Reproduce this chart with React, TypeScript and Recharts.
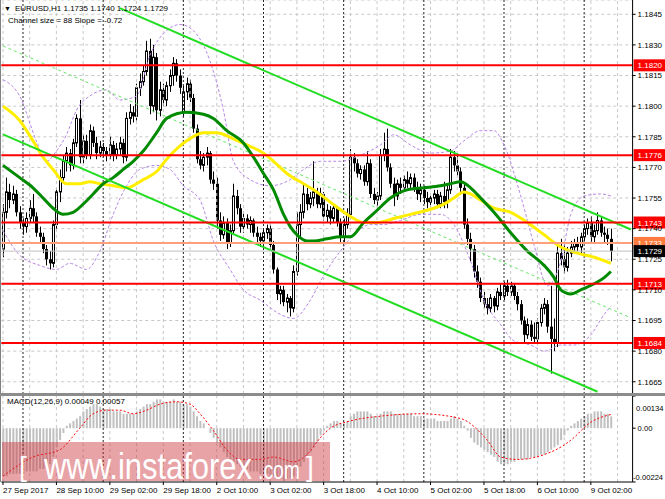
import React from 'react';
import { ComposedChart, Bar, Line, XAxis, YAxis, CartesianGrid, ReferenceLine } from 'recharts';

const FONT = "'Liberation Sans', Arial, sans-serif";
const SLOTS = 189;

// [open, high, low, close] per H1 bar, 27 Sep 18:00 .. 9 Oct 08:00
const candles: [number, number, number, number][] = [
  [1.1730,1.1752,1.1726,1.1748],[1.1748,1.1765,1.1745,1.1758],[1.1758,1.1762,1.1750,1.1754],[1.1754,1.1761,1.1752,1.1757],
  [1.1757,1.1759,1.1746,1.1748],[1.1748,1.1751,1.1740,1.1743],[1.1743,1.1745,1.1737,1.1741],[1.1741,1.1748,1.1738,1.1745],
  [1.1745,1.1754,1.1743,1.1750],[1.1750,1.1757,1.1743,1.1746],[1.1746,1.1748,1.1736,1.1738],[1.1738,1.1741,1.1733,1.1736],
  [1.1736,1.1738,1.1728,1.1730],[1.1730,1.1732,1.1722,1.1725],[1.1725,1.1729,1.1720,1.1723],[1.1723,1.1744,1.1721,1.1742],
  [1.1742,1.1760,1.1740,1.1758],[1.1758,1.1769,1.1753,1.1765],[1.1765,1.1776,1.1762,1.1773],[1.1773,1.1780,1.1768,1.1777],
  [1.1777,1.1779,1.1768,1.1771],[1.1771,1.1784,1.1769,1.1782],[1.1782,1.1796,1.1780,1.1794],[1.1794,1.1803,1.1772,1.1775],
  [1.1775,1.1786,1.1772,1.1783],[1.1783,1.1786,1.1774,1.1776],[1.1776,1.1791,1.1774,1.1788],[1.1788,1.1790,1.1780,1.1782],
  [1.1782,1.1785,1.1774,1.1777],[1.1777,1.1783,1.1775,1.1780],[1.1780,1.1782,1.1775,1.1778],[1.1778,1.1780,1.1773,1.1776],
  [1.1776,1.1785,1.1774,1.1781],[1.1781,1.1783,1.1773,1.1776],[1.1776,1.1782,1.1774,1.1779],[1.1779,1.1785,1.1776,1.1782],
  [1.1782,1.1784,1.1772,1.1775],[1.1775,1.1797,1.1773,1.1794],[1.1794,1.1801,1.1791,1.1797],[1.1797,1.1800,1.1792,1.1795],
  [1.1795,1.1811,1.1793,1.1809],[1.1809,1.1816,1.1805,1.1812],[1.1812,1.1820,1.1810,1.1817],[1.1817,1.1832,1.1815,1.1827],
  [1.1827,1.1833,1.1796,1.1800],[1.1800,1.1830,1.1797,1.1824],[1.1824,1.1826,1.1793,1.1798],[1.1798,1.1812,1.1795,1.1808],
  [1.1808,1.1811,1.1800,1.1803],[1.1803,1.1812,1.1800,1.1810],[1.1810,1.1818,1.1807,1.1815],[1.1815,1.1824,1.1810,1.1821],
  [1.1821,1.1823,1.1812,1.1815],[1.1815,1.1818,1.1806,1.1809],[1.1797,1.1810,1.1795,1.1807],[1.1807,1.1814,1.1803,1.1811],
  [1.1811,1.1813,1.1802,1.1804],[1.1804,1.1806,1.1787,1.1789],[1.1789,1.1791,1.1772,1.1774],[1.1774,1.1778,1.1769,1.1771],
  [1.1771,1.1777,1.1768,1.1775],[1.1775,1.1780,1.1771,1.1777],[1.1777,1.1778,1.1762,1.1764],[1.1764,1.1768,1.1759,1.1762],
  [1.1762,1.1765,1.1740,1.1744],[1.1744,1.1748,1.1734,1.1737],[1.1737,1.1746,1.1735,1.1743],[1.1743,1.1745,1.1730,1.1733],
  [1.1733,1.1742,1.1731,1.1739],[1.1739,1.1762,1.1737,1.1756],[1.1756,1.1759,1.1747,1.1750],[1.1750,1.1752,1.1738,1.1741],
  [1.1741,1.1748,1.1738,1.1745],[1.1745,1.1747,1.1740,1.1742],[1.1742,1.1746,1.1738,1.1744],[1.1744,1.1745,1.1736,1.1738],
  [1.1738,1.1741,1.1733,1.1736],[1.1736,1.1738,1.1731,1.1734],[1.1734,1.1740,1.1731,1.1738],[1.1738,1.1742,1.1735,1.1740],
  [1.1740,1.1742,1.1730,1.1732],[1.1732,1.1734,1.1718,1.1720],[1.1720,1.1721,1.1705,1.1708],[1.1708,1.1712,1.1703,1.1710],
  [1.1710,1.1712,1.1702,1.1704],[1.1704,1.1708,1.1699,1.1706],[1.1706,1.1707,1.1697,1.1701],[1.1701,1.1722,1.1699,1.1719],
  [1.1719,1.1748,1.1717,1.1742],[1.1742,1.1752,1.1735,1.1748],[1.1748,1.1762,1.1745,1.1757],[1.1757,1.1760,1.1749,1.1752],
  [1.1752,1.1758,1.1750,1.1755],[1.1755,1.1773,1.1751,1.1758],[1.1758,1.1760,1.1750,1.1752],[1.1752,1.1760,1.1750,1.1757],
  [1.1757,1.1758,1.1744,1.1746],[1.1746,1.1752,1.1743,1.1749],[1.1749,1.1751,1.1742,1.1745],[1.1745,1.1752,1.1743,1.1750],
  [1.1750,1.1751,1.1741,1.1743],[1.1743,1.1745,1.1733,1.1736],[1.1736,1.1745,1.1733,1.1742],[1.1742,1.1750,1.1740,1.1747],
  [1.1747,1.1779,1.1745,1.1775],[1.1775,1.1777,1.1768,1.1772],[1.1772,1.1774,1.1765,1.1767],[1.1767,1.1771,1.1764,1.1769],
  [1.1769,1.1771,1.1761,1.1763],[1.1763,1.1778,1.1761,1.1772],[1.1772,1.1774,1.1755,1.1757],[1.1757,1.1760,1.1752,1.1754],
  [1.1754,1.1758,1.1751,1.1756],[1.1756,1.1779,1.1754,1.1776],[1.1776,1.1787,1.1773,1.1779],[1.1779,1.1789,1.1768,1.1770],
  [1.1770,1.1772,1.1760,1.1762],[1.1762,1.1765,1.1751,1.1756],[1.1756,1.1764,1.1754,1.1762],[1.1762,1.1765,1.1757,1.1760],
  [1.1760,1.1766,1.1758,1.1764],[1.1764,1.1768,1.1760,1.1762],[1.1762,1.1767,1.1759,1.1765],[1.1765,1.1767,1.1758,1.1760],
  [1.1760,1.1763,1.1754,1.1757],[1.1757,1.1762,1.1753,1.1759],[1.1759,1.1761,1.1752,1.1755],[1.1755,1.1758,1.1750,1.1753],
  [1.1753,1.1757,1.1750,1.1755],[1.1755,1.1759,1.1752,1.1757],[1.1757,1.1759,1.1750,1.1752],[1.1752,1.1758,1.1750,1.1756],
  [1.1756,1.1763,1.1750,1.1753],[1.1753,1.1762,1.1750,1.1759],[1.1759,1.1779,1.1757,1.1775],[1.1775,1.1778,1.1768,1.1771],
  [1.1771,1.1776,1.1766,1.1768],[1.1768,1.1770,1.1758,1.1760],[1.1760,1.1762,1.1740,1.1742],[1.1742,1.1745,1.1732,1.1735],
  [1.1735,1.1738,1.1724,1.1730],[1.1730,1.1732,1.1716,1.1719],[1.1719,1.1722,1.1711,1.1714],[1.1714,1.1716,1.1704,1.1706],
  [1.1706,1.1709,1.1701,1.1703],[1.1703,1.1706,1.1698,1.1701],[1.1701,1.1708,1.1699,1.1706],[1.1706,1.1707,1.1699,1.1702],
  [1.1702,1.1711,1.1700,1.1709],[1.1709,1.1713,1.1705,1.1707],[1.1707,1.1714,1.1705,1.1712],[1.1712,1.1715,1.1707,1.1709],
  [1.1709,1.1714,1.1707,1.1712],[1.1712,1.1713,1.1705,1.1707],[1.1707,1.1709,1.1700,1.1703],[1.1703,1.1705,1.1693,1.1695],
  [1.1695,1.1697,1.1684,1.1688],[1.1688,1.1696,1.1686,1.1693],[1.1693,1.1695,1.1685,1.1687],[1.1687,1.1694,1.1684,1.1686],
  [1.1686,1.1696,1.1684,1.1694],[1.1694,1.1703,1.1692,1.1701],[1.1701,1.1706,1.1698,1.1703],[1.1703,1.1705,1.1689,1.1692],
  [1.1692,1.1712,1.1669,1.1686],[1.1686,1.1696,1.1680,1.1684],[1.1684,1.1733,1.1682,1.1728],[1.1728,1.1735,1.1722,1.1725],
  [1.1725,1.1733,1.1718,1.1721],[1.1721,1.1731,1.1719,1.1728],[1.1728,1.1734,1.1726,1.1731],[1.1731,1.1735,1.1728,1.1733],
  [1.1733,1.1736,1.1729,1.1731],[1.1731,1.1738,1.1728,1.1736],[1.1736,1.1742,1.1734,1.1740],[1.1740,1.1745,1.1737,1.1743],
  [1.1743,1.1746,1.1733,1.1736],[1.1736,1.1742,1.1733,1.1739],[1.1739,1.1748,1.1737,1.1744],[1.1744,1.1746,1.1736,1.1738],
  [1.1738,1.1741,1.1733,1.1737],[1.1737,1.1740,1.1732,1.1735],[1.1735,1.1740,1.1724,1.1729],
];

// [bar index, value] points
const yellowMA: [number, number][] = [
  [0,1.1800],[5,1.1793],[9,1.1783],[12,1.1775],[15,1.1769],[19,1.1762],[23,1.1762],[26,1.1763],[29,1.1762],[33,1.1761],
  [37,1.1760],[42,1.1764],[46,1.1768],[49,1.1774],[55,1.1783],[60,1.1787],[64,1.1787],[69,1.1784],[73,1.1781],[78,1.1777],
  [81,1.1773],[85,1.1767],[90,1.1762],[93,1.1759],[98,1.1753],[103,1.1747],[105,1.1745],[108,1.1743],[112,1.1743],[117,1.1745],
  [122,1.1747],[127,1.1749],[132,1.1752],[135,1.1755],[138,1.1758],[140,1.1757],[143,1.1754],[147,1.1750],[152,1.1748],[157,1.1743],
  [162,1.1737],[167,1.1731],[172,1.1728],[177,1.1726],[182,1.1723],
];
const greenMA: [number, number][] = [
  [0,1.1771],[5,1.1765],[9,1.1760],[12,1.1755],[15,1.1750],[18,1.1747],[21,1.1748],[24,1.1752],[27,1.1757],[30,1.1762],
  [33,1.1765],[36,1.1769],[39,1.1773],[42,1.1778],[46,1.1787],[49,1.1794],[55,1.1797],[60,1.1796],[63,1.1794],[67,1.1788],
  [72,1.1782],[75,1.1775],[78,1.1767],[81,1.1759],[84,1.1747],[86,1.1741],[88,1.1737],[91,1.1734],[93,1.1734],[97,1.1735],
  [101,1.1736],[104,1.1736],[108,1.1743],[112,1.1749],[116,1.1755],[121,1.1759],[126,1.1760],[131,1.1761],[134,1.1762],[137,1.1763],
  [140,1.1760],[143,1.1755],[147,1.1748],[152,1.1738],[157,1.1729],[162,1.1722],[165,1.1716],[167,1.1710],[170,1.1708],[173,1.1710],
  [177,1.1713],[180,1.1716],[182,1.1719],
];
const bbUpper: [number, number][] = [
  [0,1.1813],[5,1.1805],[10,1.1783],[13,1.1773],[16,1.1778],[19,1.1786],[22,1.1798],[26,1.1805],[31,1.1808],[35,1.1803],
  [40,1.1805],[44,1.1825],[49,1.1837],[53,1.1840],[57,1.1837],[62,1.1822],[66,1.1798],[69,1.1773],[74,1.1764],[80,1.1761],
  [86,1.1764],[90,1.1769],[95,1.1773],[101,1.1773],[107,1.1776],[113,1.1781],[117,1.1786],[122,1.1781],[128,1.1777],[134,1.1778],
  [138,1.1783],[143,1.1788],[147,1.1788],[150,1.1781],[155,1.1756],[159,1.1732],[163,1.1712],[167,1.1724],[170,1.1747],[174,1.1756],
  [179,1.1757],[182,1.1756],
];
const bbLower: [number, number][] = [
  [0,1.1739],[5,1.1727],[11,1.1722],[16,1.1720],[20,1.1723],[25,1.1720],[29,1.1729],[33,1.1747],[37,1.1761],[41,1.1769],
  [46,1.1771],[50,1.1769],[54,1.1761],[59,1.1754],[63,1.1734],[68,1.1720],[72,1.1710],[77,1.1705],[83,1.1698],[87,1.1696],
  [92,1.1705],[96,1.1717],[101,1.1729],[105,1.1737],[110,1.1742],[114,1.1742],[119,1.1744],[125,1.1747],[131,1.1747],[135,1.1742],
  [140,1.1724],[144,1.1705],[149,1.1693],[153,1.1685],[158,1.1683],[162,1.1680],[167,1.1683],[171,1.1683],[176,1.1688],[180,1.1698],
  [182,1.1702],
];

const macdHist: number[] = [
  -0.0020,-0.0020,-0.0019,-0.0019,-0.0019,-0.0019,-0.0019,-0.0018,-0.0018,-0.0018,-0.0018,-0.0017,-0.0017,-0.0016,-0.0015,
  -0.0012,-0.0008,-0.0005,-0.0002,0.0001,
  0.0002,0.0003,0.0004,0.0005,0.0007,0.0008,0.0009,0.0010,0.0010,0.0009,
  0.0008,0.0008,0.0008,0.0007,0.0007,0.0007,0.0006,0.0006,0.0006,0.0006,
  0.0007,0.0008,0.0009,0.0010,0.0010,0.0011,0.0012,0.0012,0.0011,0.0011,
  0.0011,0.0012,0.0011,0.0011,0.0010,0.0010,0.0009,0.0007,0.0005,0.0003,
  0.0002,0.0000,-0.0002,-0.0004,-0.0006,-0.0008,-0.0010,-0.0012,-0.0013,-0.0014,
  -0.0015,-0.0016,-0.0017,-0.0017,-0.0018,-0.0018,-0.0018,-0.0019,-0.0019,-0.0019,
  -0.0020,-0.0020,-0.0021,-0.0021,-0.0022,-0.0021,-0.0021,-0.0020,-0.0018,-0.0016,
  -0.0014,-0.0012,-0.0010,-0.0008,-0.0006,-0.0003,-0.0001,0.0001,0.0002,0.0003,
  0.0003,0.0002,0.0002,0.0003,0.0005,0.0006,0.0007,0.0007,0.0007,0.0007,
  0.0006,0.0005,0.0005,0.0006,0.0007,0.0007,0.0007,0.0006,0.0006,0.0006,
  0.0006,0.0006,0.0006,0.0005,0.0005,0.0005,0.0004,0.0004,0.0004,0.0004,
  0.0003,0.0003,0.0003,0.0003,0.0004,0.0005,0.0004,0.0003,0.0001,-0.0001,
  -0.0004,-0.0006,-0.0007,-0.0008,-0.0009,-0.0010,-0.0011,-0.0012,-0.0014,-0.0015,
  -0.0015,-0.0015,-0.0014,-0.0014,-0.0013,-0.0013,-0.0013,-0.0013,-0.0012,-0.0012,
  -0.0012,-0.0011,-0.0011,-0.0010,-0.0009,-0.0008,-0.0007,-0.0005,-0.0003,-0.0001,
  0.0001,0.0002,0.0003,0.0004,0.0005,0.0006,0.0006,0.0007,0.0007,0.0007,
  0.0006,0.0006,0.00049,
];
const macdSignal: [number, number][] = [
  [0,-0.0020],[9,-0.0012],[17,-0.0009],[23,0.0000],[27,0.0006],[31,0.00075],[35,0.00075],[39,0.0006],[43,0.00075],[47,0.0010],
  [52,0.0011],[56,0.0010],[59,0.0006],[63,-0.0001],[67,-0.0009],[71,-0.0013],[77,-0.0013],[81,-0.0012],[87,-0.0014],[91,-0.0011],
  [95,-0.0004],[98,0.0000],[104,0.0003],[113,0.0005],[125,0.0006],[137,0.0004],[145,-0.0005],[149,-0.0012],[154,-0.0013],[162,-0.0011],
  [168,-0.0007],[170,-0.0005],[176,0.00025],[182,0.00057],
];

const priceTicks = [1.1845,1.1830,1.1815,1.1800,1.1785,1.1770,1.1755,1.1740,1.1725,1.1710,1.1695,1.1680,1.1665];
const redLevels = [1.1820, 1.1776, 1.1743, 1.1713, 1.1684];
const timeLabels: Record<number, string> = {
  0: '27 Sep 2017', 16: '28 Sep 10:00', 32: '29 Sep 02:00', 48: '29 Sep 18:00', 64: '2 Oct 10:00', 80: '3 Oct 02:00',
  96: '3 Oct 18:00', 112: '4 Oct 10:00', 128: '5 Oct 02:00', 144: '5 Oct 18:00', 160: '6 Oct 10:00', 176: '9 Oct 02:00',
};
const daySeparators = [6, 30, 54, 78, 102, 126, 150, 174];
const gridX = Array.from({ length: 24 }, (_, k) => k * 8);

// channel: [start bar, start price, end bar, end price]
const channelUpper = [35, 1.1848, 188, 1.17396];
const channelMid = [0, 1.18295, 188, 1.16963];
const channelLower = [0, 1.17862, 178, 1.16601];

const priceRows: any[] = Array.from({ length: SLOTS }, (_, i) => {
  const r: any = { i };
  const k = candles[i];
  if (k) { r.o = k[0]; r.h = k[1]; r.l = k[2]; r.c = k[3]; r.range = [k[2], k[1]]; }
  return r;
});
yellowMA.forEach(([i, v]) => { priceRows[i].yl = v; });
greenMA.forEach(([i, v]) => { priceRows[i].gr = v; });
bbUpper.forEach(([i, v]) => { priceRows[i].bbu = v; });
bbLower.forEach(([i, v]) => { priceRows[i].bbl = v; });

const macdRows: any[] = Array.from({ length: SLOTS }, (_, i) => {
  const r: any = { i };
  if (i < macdHist.length) r.hist = macdHist[i];
  return r;
});
macdSignal.forEach(([i, v]) => { macdRows[i].sig = v; });

function Candle(props: any) {
  const { x, y, width, height, payload } = props;
  if (!payload || payload.o == null || y == null || isNaN(y)) return null;
  const top = Math.min(y, y + height);
  const span = Math.abs(height);
  const { o, h, l, c } = payload;
  const py = (p: number) => top + (h === l ? 0 : ((h - p) / (h - l)) * span);
  const cx = Math.round(x + width / 2) + 0.5;
  const bTop = py(Math.max(o, c));
  const bBot = py(Math.min(o, c));
  const bull = c > o;
  return (
    <g>
      <line x1={cx} x2={cx} y1={top} y2={top + span} stroke="#000" strokeWidth={1} />
      {bull ? (
        <rect x={cx - 1} y={bTop} width={2} height={Math.max(bBot - bTop, 1)} fill="#fff" stroke="#000" strokeWidth={1} />
      ) : (
        <rect x={cx - 1.5} y={bTop} width={3} height={Math.max(bBot - bTop, 1)} fill="#000" />
      )}
    </g>
  );
}

function Tag(props: any) {
  const { viewBox, text, fill } = props;
  if (!viewBox) return null;
  const x = viewBox.x + viewBox.width + 1;
  const y = viewBox.y;
  return (
    <g>
      <rect x={x} y={y - 6} width={33} height={12} fill={fill} />
      <text x={x + 4} y={y + 3} fontSize={8} fill="#fff" fontFamily={FONT}>{text}</text>
    </g>
  );
}

function XTick(props: any) {
  const { x, y, payload } = props;
  const lab = timeLabels[payload.value];
  if (!lab) return null;
  return <text x={x} y={y + 6} fontSize={8} fill="#000" fontFamily={FONT} textAnchor="start">{lab}</text>;
}

function MTick(props: any) {
  const { x, y, payload } = props;
  const v = payload.value;
  let dy = 3, label = '0.00', dx = 0;
  if (v > 0) { dy = 15; label = '0.00134'; dx = -1.5; }
  else if (v < 0) { dy = -2; label = '-0.00224'; dx = -4.5; }
  return <text x={x + dx} y={y + dy} fontSize={7.6} fill="#000" fontFamily={FONT}>{label}</text>;
}

const seg = (s: number[]) => [{ x: s[0], y: s[1] }, { x: s[2], y: s[3] }] as any;

export default function App() {
  const margin = { top: 0, right: 0, left: 1.3, bottom: 0 };
  return (
    <div style={{ position: 'absolute', left: 0, top: 0, width: 665, height: 499, background: '#fff', fontFamily: FONT, overflow: 'hidden' }}>
      <div style={{ position: 'absolute', left: 0, top: 0 }}>
        <ComposedChart width={665} height={394} data={priceRows} margin={margin}>
          <CartesianGrid vertical={false} stroke="#c8c8c8" strokeDasharray="3 3" />
          <XAxis dataKey="i" type="category" hide />
          <YAxis orientation="right" width={32.4} domain={[1.1659, 1.1852]} ticks={priceTicks} interval={0}
            allowDataOverflow tickFormatter={(v: number) => v.toFixed(4)} tick={{ fontSize: 8, fill: '#000' }}
            tickSize={3} tickMargin={2} axisLine={{ stroke: '#000' }} tickLine={{ stroke: '#000' }} />
          {gridX.map((i) => <ReferenceLine key={'g' + i} x={i} stroke="#c8c8c8" strokeDasharray="3 3" />)}
          {daySeparators.map((i) => <ReferenceLine key={'d' + i} x={i} stroke="#222" strokeDasharray="2 2" />)}
          <Line dataKey="bbu" stroke="#b886e6" strokeWidth={1} strokeDasharray="3 2" dot={false} connectNulls type="monotone" isAnimationActive={false} />
          <Line dataKey="bbl" stroke="#b886e6" strokeWidth={1} strokeDasharray="3 2" dot={false} connectNulls type="monotone" isAnimationActive={false} />
          <ReferenceLine segment={seg(channelMid)} stroke="#66e866" strokeWidth={1} strokeDasharray="3 3" ifOverflow="visible" />
          <Bar dataKey="range" barSize={3} shape={(p: any) => <Candle {...p} />} isAnimationActive={false} />
          <Line dataKey="yl" stroke="#ffee00" strokeWidth={3} dot={false} connectNulls type="monotone" isAnimationActive={false} />
          <Line dataKey="gr" stroke="#008a00" strokeWidth={3} dot={false} connectNulls type="monotone" isAnimationActive={false} />
          <ReferenceLine segment={seg(channelUpper)} stroke="#22dd22" strokeWidth={2} ifOverflow="visible" />
          <ReferenceLine segment={seg(channelLower)} stroke="#22dd22" strokeWidth={2} ifOverflow="visible" />
          <ReferenceLine y={1.1729} stroke="#c0c0c0" strokeWidth={1} />
          <ReferenceLine y={1.1733} stroke="#ffa07a" strokeWidth={2} label={<Tag text="1.1733" fill="#ff7a3c" />} />
          <ReferenceLine y={1.1729} stroke="none" label={<Tag text="1.1729" fill="#000" />} />
          {redLevels.map((p) => (
            <ReferenceLine key={'r' + p} y={p} stroke="#ff0000" strokeWidth={2} label={<Tag text={p.toFixed(4)} fill="#ff0000" />} />
          ))}
        </ComposedChart>
      </div>
      <div style={{ position: 'absolute', left: 0, top: 396 }}>
        <ComposedChart width={665} height={103} data={macdRows} margin={margin}>
          <XAxis dataKey="i" type="category" interval={15} tick={<XTick />} tickSize={3} tickMargin={2} height={17}
            axisLine={{ stroke: '#000' }} tickLine={{ stroke: '#000' }} />
          <YAxis orientation="right" width={32.4} domain={[-0.00224, 0.00134]} ticks={[0.00134, 0, -0.00224]} interval={0}
            allowDataOverflow tick={<MTick />} tickSize={3} tickMargin={2} axisLine={{ stroke: '#000' }} tickLine={{ stroke: '#000' }} />
          {gridX.map((i) => <ReferenceLine key={'g' + i} x={i} stroke="#c8c8c8" strokeDasharray="3 3" />)}
          {daySeparators.map((i) => <ReferenceLine key={'d' + i} x={i} stroke="#222" strokeDasharray="2 2" />)}
          <Bar dataKey="hist" fill="#c0c0c0" barSize={2} isAnimationActive={false} />
          <Line dataKey="sig" stroke="#ff0000" strokeWidth={1} strokeDasharray="2 2" dot={false} connectNulls type="monotone" isAnimationActive={false} />
        </ComposedChart>
      </div>
      <svg width={665} height={499} style={{ position: 'absolute', left: 0, top: 0, pointerEvents: 'none' }}>
        <line x1={0.5} y1={0} x2={0.5} y2={482} stroke="#808080" />
        <rect x={0} y={393} width={665} height={3} fill="#8c8c8c" />
        <text x={4} y={11} fontSize={7} fill="#000" fontFamily={FONT}>▼</text>
        <text x={15} y={11} fontSize={8} fill="#000" fontFamily={FONT}>EURUSD,H1  1.1735 1.1740 1.1724 1.1729</text>
        <text x={8} y={23} fontSize={8} fill="#000" fontFamily={FONT}>Channel size = 88 Slope = -0.72</text>
        <text x={7} y={404} fontSize={8} fill="#000" fontFamily={FONT}>MACD(12,26,9) 0.00049 0.00057</text>
        <rect x={2} y={442} width={328} height={39} fill="rgba(205,50,60,0.45)" />
        <text fill="#fff" fontFamily={FONT}>
          <tspan x={19} y={476} fontSize={28}>[</tspan>
          <tspan x={44} y={479} fontSize={36} textLength={208} lengthAdjust="spacingAndGlyphs">www.instaforex</tspan>
          <tspan x={258} y={479} fontSize={25} textLength={42} lengthAdjust="spacingAndGlyphs">.com</tspan>
          <tspan x={306} y={476} fontSize={28}>]</tspan>
        </text>
      </svg>
    </div>
  );
}
